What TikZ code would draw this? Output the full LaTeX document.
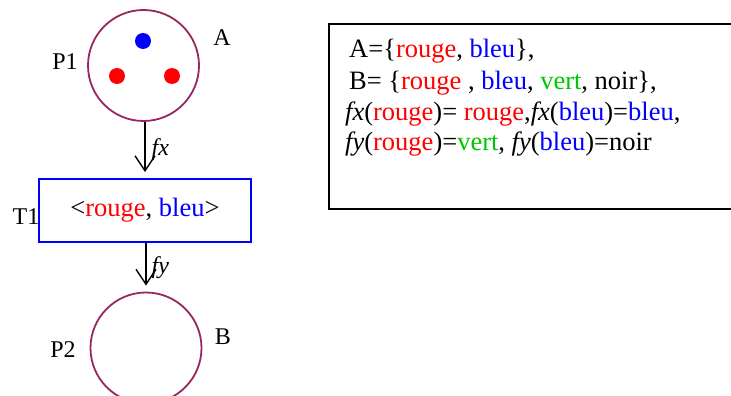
\documentclass[tikz,border=0pt]{standalone}
\usepackage{fontspec}
\setmainfont{Liberation Serif}
\usetikzlibrary{arrows.meta}
\definecolor{placecol}{RGB}{150,40,95}
\definecolor{rd}{RGB}{255,0,0}
\definecolor{bl}{RGB}{0,0,255}
\definecolor{gr}{RGB}{0,200,0}
\tikzset{
  place/.style={circle,draw=placecol,line width=1.8pt,minimum size=111pt,inner sep=0pt},
  token/.style={circle,fill=#1,minimum size=16pt,inner sep=0pt},
  trans/.style={draw=bl,line width=1.8pt,minimum width=212pt,minimum height=63pt,inner sep=0pt},
  lbl/.style={font=\fontsize{24}{28}\selectfont,inner sep=0pt},
  txt/.style={font=\fontsize{26.5}{30}\selectfont,inner sep=0pt},
  arc/.style={-{Straight Barb[length=15pt,width=20pt]},line width=1.4pt,shorten >=6pt},
}
\begin{document}
\begin{tikzpicture}[x=1pt,y=-1pt]
\useasboundingbox (0,0) rectangle (731,396);
% places
\node[place] (p1) at (143.5,65.5) {};
\node[place] (p2) at (146,348) {};
\node[token=bl] (k1) at (143,41) {};
\node[token=rd] (k2) at (117,76) {};
\node[token=rd] (k3) at (172,76) {};
% transition
\node[trans] (t1) at (145,210.5) {\fontsize{26.5}{30}\selectfont<\textcolor{rd}{rouge}, \textcolor{bl}{bleu}>};
% labels
\node[lbl] (lp1) at (65,62) {P1};
\node[lbl] (la) at (222,38) {A};
\node[lbl] (lt1) at (26,217) {T1};
\node[lbl] (lp2) at (63,350) {P2};
\node[lbl] (lb) at (223,337) {B};
% arcs
\draw[arc] (t1.north |- p1.south) -- (t1.north) node[lbl,midway,right=6pt] (lfx) {\textit{fx}};
\draw[arc] (p2.north |- t1.south) -- (p2.north) node[lbl,midway,right=5pt] (lfy) {\textit{fy}};
% info box
\coordinate (bx1) at (329,24);
\coordinate (bx2) at (745,209);
\draw[line width=1.8pt] (bx1) rectangle (bx2);
\node[txt,anchor=base west] (l1) at (349,58) {A=\{\textcolor{rd}{rouge}, \textcolor{bl}{bleu}\},};
\node[txt,anchor=base west] (l2) at (349,89) {B= \{\textcolor{rd}{rouge} , \textcolor{bl}{bleu}, \textcolor{gr}{vert}, noir\},};
\node[txt,anchor=base west] (l3) at (345,120) {\textit{fx}(\textcolor{rd}{rouge})= \textcolor{rd}{rouge},\textit{fx}(\textcolor{bl}{bleu})=\textcolor{bl}{bleu},};
\node[txt,anchor=base west] (l4) at (345,150) {\textit{fy}(\textcolor{rd}{rouge})=\textcolor{gr}{vert}, \textit{fy}(\textcolor{bl}{bleu})=noir};
\end{tikzpicture}
\end{document}
